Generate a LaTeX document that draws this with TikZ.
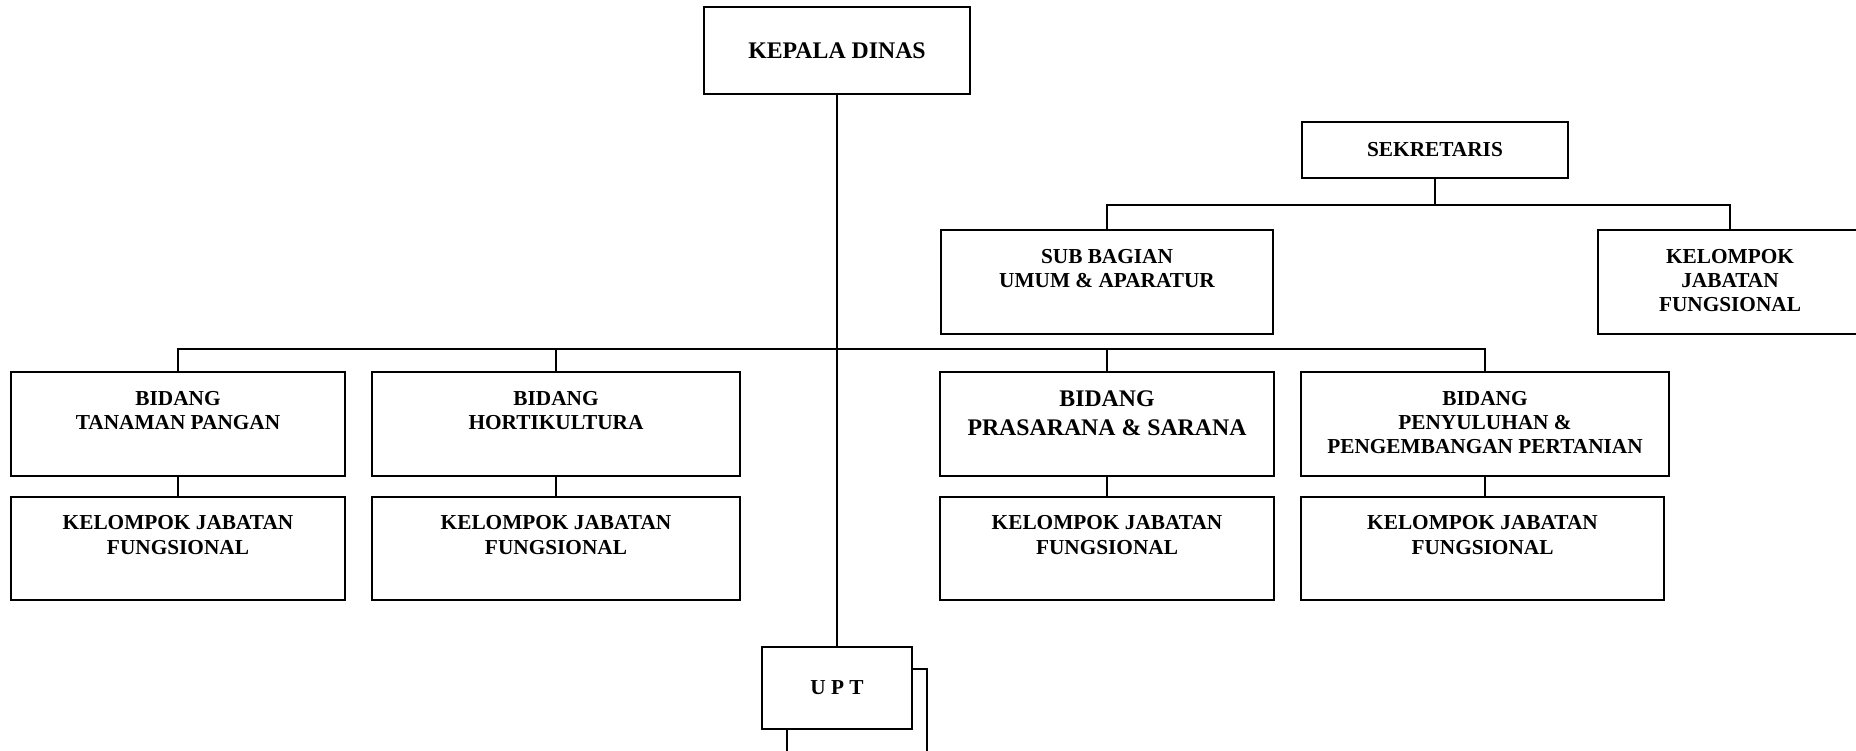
\documentclass[tikz,border=0pt]{standalone}
\usepackage{fontspec}
\setmainfont{Liberation Serif}

\begin{document}
\begin{tikzpicture}[x=0.5pt, y=-0.5pt, line width=0.9pt,
    unit/.style={draw, fill=white, inner sep=0pt},
    ttl/.style={font=\bfseries\fontsize{10.65}{12.2}\selectfont, align=center, inner sep=0pt},
    ttlb/.style={font=\bfseries\fontsize{11.9}{14.2}\selectfont, align=center, inner sep=0pt},
    txt/.style={label={[ttl, anchor=north, yshift=-9.5pt]north:#1}},
    txtb/.style={label={[ttlb, anchor=north, yshift=-9.5pt]north:#1}}]
    \useasboundingbox (0,0) rectangle (1856,750);
    % pimpinan dan sekretariat
    \node[unit, minimum width=133pt, minimum height=43.5pt, ttlb] (kd) at (837, 50.5) {KEPALA DINAS};
    \node[unit, minimum width=133pt, minimum height=28pt, ttl] (sek) at (1435, 150) {SEKRETARIS};
    \node[unit, minimum width=166pt, minimum height=52pt, txt={SUB BAGIAN\\UMUM \& APARATUR}] (sub) at (1107, 282) {};
    \node[unit, minimum width=132pt, minimum height=52pt, txt={KELOMPOK\\JABATAN\\FUNGSIONAL}] (kjf) at (1730, 282) {};
    % bidang
    \node[unit, minimum width=167pt, minimum height=52pt, txt={BIDANG\\TANAMAN PANGAN}] (tp) at (178, 424) {};
    \node[unit, minimum width=184pt, minimum height=52pt, txt={BIDANG\\HORTIKULTURA}] (ho) at (556, 424) {};
    \node[unit, minimum width=167pt, minimum height=52pt, txtb={BIDANG\\PRASARANA \& SARANA}] (ps) at (1107, 424) {};
    \node[unit, minimum width=184pt, minimum height=52pt, txt={BIDANG\\PENYULUHAN \&\\PENGEMBANGAN PERTANIAN}] (pp) at (1485, 424) {};
    % kelompok jabatan fungsional
    \node[unit, minimum width=167pt, minimum height=51.75pt, txt={KELOMPOK JABATAN\\FUNGSIONAL}] (tpk) at (178, 548.5) {};
    \node[unit, minimum width=184pt, minimum height=51.75pt, txt={KELOMPOK JABATAN\\FUNGSIONAL}] (hok) at (556, 548.5) {};
    \node[unit, minimum width=167pt, minimum height=51.75pt, txt={KELOMPOK JABATAN\\FUNGSIONAL}] (psk) at (1107, 548.5) {};
    \node[unit, minimum width=181.5pt, minimum height=51.75pt, txt={KELOMPOK JABATAN\\FUNGSIONAL}] (ppk) at (1482.5, 548.5) {};
    % upt
    \node[unit, minimum width=70pt, minimum height=75.5pt] (upt2) at (857, 744.5) {};
    \node[unit, minimum width=75pt, minimum height=41pt, ttl] (upt) at (837, 688) {U P T};
    \coordinate (sbus) at (0, 205);
    \coordinate (bus) at (0, 349);
    \draw (kd) -- (upt);
    \draw (sek) -- (sek |- sbus);
    \draw (sub) -- (sub |- sbus) -- (kjf |- sbus) -- (kjf);
    \draw (tp) -- (tp |- bus) -- (pp |- bus) -- (pp);
    \draw (ho) -- (ho |- bus);
    \draw (ps) -- (ps |- bus);
    \draw (tp) -- (tpk);
    \draw (ho) -- (hok);
    \draw (ps) -- (psk);
    \draw (pp.south) -- (pp.south |- ppk.north);
  \end{tikzpicture}
\end{document}
